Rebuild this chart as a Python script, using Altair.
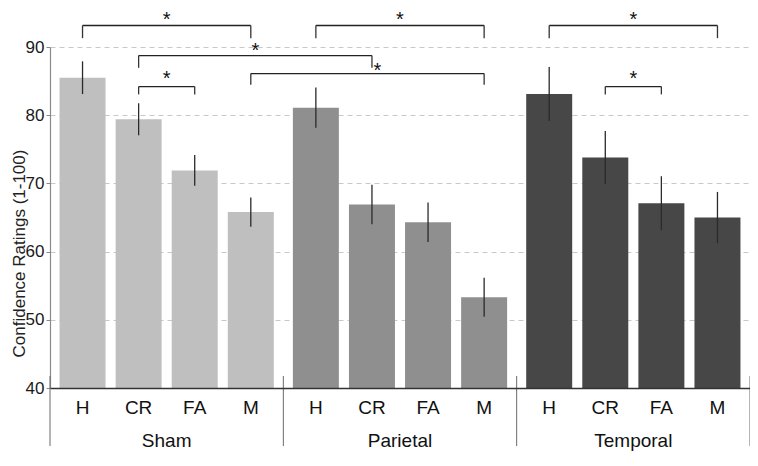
import altair as alt
import pandas as pd

# ---------------- data ----------------
groups = ["Sham", "Parietal", "Temporal"]
conditions = ["H", "CR", "FA", "M"]

sham_mean = [85.5, 79.4, 71.9, 65.8]
parietal_mean = [81.1, 66.9, 64.3, 53.3]
temporal_mean = [83.1, 73.8, 67.1, 65.0]

sham_err = [2.4, 2.35, 2.25, 2.15]
parietal_err = [2.95, 2.9, 2.9, 2.85]
temporal_err = [3.95, 3.9, 3.95, 3.75]

# significance brackets
br_from_group = ["Sham", "Sham", "Sham", "Parietal", "Sham", "Temporal", "Temporal"]
br_from_cond = ["H", "CR", "M", "H", "CR", "H", "CR"]
br_to_group = ["Sham", "Parietal", "Parietal", "Parietal", "Sham", "Temporal", "Temporal"]
br_to_cond = ["M", "CR", "M", "M", "FA", "M", "FA"]
br_top = [93.15, 88.75, 86.1, 93.15, 84.2, 93.15, 84.2]
br_leg = [91.3, 86.95, 84.45, 91.3, 83.05, 91.3, 83.05]
br_star = [94.75, 90.2, 87.15, 94.75, 86.0, 94.75, 86.05]

group_colors = ["#bfbfbf", "#8f8f8f", "#474747"]

# ---------------- layout helpers ----------------
GROUP_STEP = 4.16          # width of one group, in bar steps
EDGE = (GROUP_STEP - 3) / 2


def slot(g, c):
    return groups.index(g) * GROUP_STEP + conditions.index(c)


means = [sham_mean, parietal_mean, temporal_mean]
errs = [sham_err, parietal_err, temporal_err]
rows = []
for gi, g in enumerate(groups):
    for ci, c in enumerate(conditions):
        m, e = means[gi][ci], errs[gi][ci]
        rows.append(dict(group=g, cond=c, slot=slot(g, c), mean=m, lo=m - e, hi=m + e))
bars = pd.DataFrame(rows)

br = pd.DataFrame(dict(
    idx=list(range(len(br_top))),
    x1=[slot(g, c) for g, c in zip(br_from_group, br_from_cond)],
    x2=[slot(g, c) for g, c in zip(br_to_group, br_to_cond)],
    top=br_top, leg=br_leg, star=br_star,
))
br["mid"] = (br["x1"] + br["x2"]) / 2

grp = pd.DataFrame(dict(group=groups, center=[i * GROUP_STEP + 1.5 for i in range(len(groups))]))
sep = pd.DataFrame(dict(b=[i * GROUP_STEP - EDGE for i in range(len(groups) + 1)]))

W, H = 700, 341
FONT = "Liberation Sans"

xscale = alt.Scale(domain=[-EDGE, 2 * GROUP_STEP + 3 + EDGE], nice=False, zero=False, padding=0)
yscale = alt.Scale(domain=[40, 90], nice=False, zero=False)

x_axis = alt.Axis(domain=True, domainColor="#333333", domainWidth=1.6, ticks=False,
                  labels=False, grid=False, title=None, zindex=1)
y_axis = alt.Axis(values=[40, 50, 60, 70, 80, 90], grid=True, gridDash=[5, 4],
                  gridColor="#c8c8c8", gridWidth=1, domainColor="#8a8a8a", domainWidth=1.2,
                  tickColor="#8a8a8a", tickSize=4, labelFontSize=17, labelFont=FONT,
                  labelColor="#1a1a1a", labelPadding=2,
                  title="Confidence Ratings (1-100)", titleFont=FONT,
                  titleFontSize=17, titleFontWeight="normal", titleColor="#222222",
                  titleAngle=270, titleX=-26, titleY=206, titleAlign="center",
                  titleBaseline="alphabetic", zindex=0)

X = alt.X("slot:Q", scale=xscale, axis=x_axis)

bar_layer = alt.Chart(bars).mark_bar(size=46).encode(
    x=X,
    y=alt.Y("mean:Q", scale=yscale, axis=y_axis),
    y2=alt.datum(40),
    color=alt.Color("group:N", scale=alt.Scale(domain=groups, range=group_colors), legend=None),
)

err_layer = alt.Chart(bars).mark_rule(color="#2a2a2a", strokeWidth=1.3).encode(
    x=X,
    y=alt.Y("lo:Q", scale=yscale, axis=y_axis),
    y2="hi:Q",
)

cond_labels = alt.Chart(bars).mark_text(baseline="middle", fontSize=19, font=FONT,
                                        color="#111111").encode(
    x=X,
    y=alt.value(H + 20),
    text="cond:N",
)

group_labels = alt.Chart(grp).mark_text(baseline="middle", fontSize=19, font=FONT,
                                        color="#111111").encode(
    x=alt.X("center:Q", scale=xscale, axis=x_axis),
    y=alt.value(H + 53),
    text="group:N",
)

sep_layer = alt.Chart(sep).mark_rule(color="#6a6a6a", strokeWidth=1).encode(
    x=alt.X("b:Q", scale=xscale, axis=x_axis),
    y=alt.value(H - 12),
    y2=alt.value(H + 58),
)

br_h = alt.Chart(br).mark_rule(color="#222222", strokeWidth=1.3).encode(
    x=alt.X("x1:Q", scale=xscale, axis=x_axis), x2="x2:Q",
    y=alt.Y("top:Q", scale=yscale, axis=y_axis),
)
br_l = alt.Chart(br).mark_rule(color="#333333", strokeWidth=1.3).encode(
    x=alt.X("x1:Q", scale=xscale, axis=x_axis),
    y=alt.Y("top:Q", scale=yscale, axis=y_axis), y2="leg:Q",
)
br_r = alt.Chart(br).mark_rule(color="#333333", strokeWidth=1.3).encode(
    x=alt.X("x2:Q", scale=xscale, axis=x_axis),
    y=alt.Y("top:Q", scale=yscale, axis=y_axis), y2="leg:Q",
)
stars = alt.Chart(br).transform_filter("datum.idx != 2").mark_text(
    text="*", fontSize=20, baseline="alphabetic", dy=11, color="#111111",
    font=FONT).encode(
    x=alt.X("mid:Q", scale=xscale, axis=x_axis),
    y=alt.Y("star:Q", scale=yscale, axis=y_axis),
)
star_nudged = alt.Chart(br).transform_filter("datum.idx == 2").mark_text(
    text="*", fontSize=20, baseline="alphabetic", dy=11, dx=10, color="#111111",
    font=FONT).encode(
    x=alt.X("mid:Q", scale=xscale, axis=x_axis),
    y=alt.Y("star:Q", scale=yscale, axis=y_axis),
)

chart = alt.layer(
    bar_layer, err_layer, sep_layer, cond_labels, group_labels,
    br_h, br_l, br_r, stars, star_nudged,
).properties(
    width=W, height=H,
    autosize=alt.AutoSizeParams(type="none"),
    padding={"left": 42, "top": 39, "right": 0, "bottom": 64},
).configure_view(strokeWidth=0)

chart.save("out.html", embed_options={"renderer": "svg", "actions": False})
